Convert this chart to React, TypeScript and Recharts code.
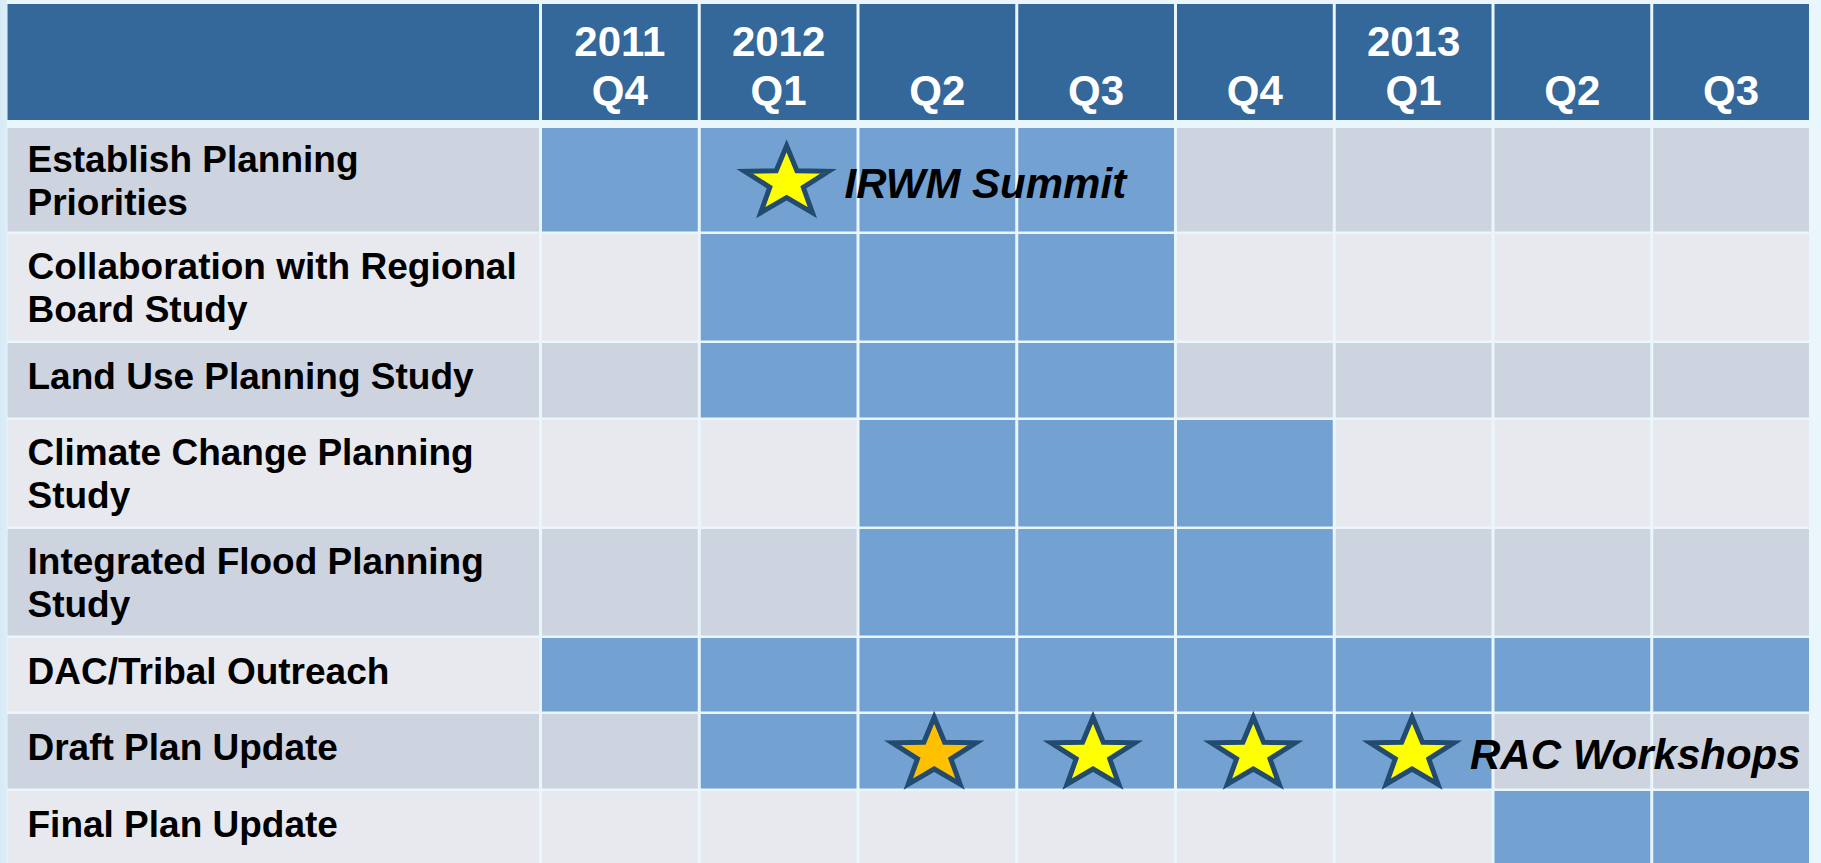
import React from 'react'
import { ScatterChart, Scatter, XAxis, YAxis, ReferenceArea } from 'recharts'

// header: year (only where it changes) over quarter
const years = ['2011', '2012', '', '', '', '2013', '', '']
const quarters = ['Q4', 'Q1', 'Q2', 'Q3', 'Q4', 'Q1', 'Q2', 'Q3']

// task names, already broken into the lines shown in the slide
const tasks = [
  ['Establish Planning', 'Priorities'],
  ['Collaboration with Regional', 'Board Study'],
  ['Land Use Planning Study'],
  ['Climate Change Planning', 'Study'],
  ['Integrated Flood Planning', 'Study'],
  ['DAC/Tribal Outreach'],
  ['Draft Plan Update'],
  ['Final Plan Update'],
]

// first / last active quarter (index into quarters) for each task
const spanStart = [0, 1, 1, 2, 2, 0, 1, 6]
const spanEnd = [3, 3, 3, 4, 4, 7, 5, 7]

// milestones: which task row, where in quarter units, colour, note
const starRow = [0, 6, 6, 6, 6]
const starQuarter = [1.55, 2.48, 3.48, 4.49, 5.49]
const starKind = ['yellow', 'orange', 'yellow', 'yellow', 'yellow']
const starNote = ['IRWM Summit', '', '', '', 'RAC Workshops']

// ---- layout (pixels on the y axis, quarter units on the x axis) ----
const W = 1821
const H = 863
const LABEL_X = -3.367 // left edge of the task-name column
const HEADER_TOP = 4
const HEADER_BOTTOM = 120
const FIRST_ROW = 128
const rowHeights = [106, 109, 77, 109, 109, 76, 77, 77]
const GAP = 2.5

const rowTops = rowHeights.reduce<number[]>((acc, h, i) => {
  acc.push(i === 0 ? FIRST_ROW : acc[i - 1] + rowHeights[i - 1])
  return acc
}, [])

const C = {
  header: '#34679A',
  active: '#73A2D2',
  dark: '#CDD3DF',
  light: '#E8E9EE',
  starLine: '#234B70',
  yellow: '#FFFF00',
  orange: '#FFC000',
}
const FONT = '"Liberation Sans", Arial, sans-serif'

type Box = { x?: number; y?: number; width?: number; height?: number }

function cellShape(fill: string, padX: number, lines?: string[], kind?: 'head' | 'task') {
  return (p: Box) => {
    const x = (p.x ?? 0) + padX
    const y = p.y ?? 0
    const w = (p.width ?? 0) - padX * 2
    const h = p.height ?? 0
    const cy = y + h / 2
    return (
      <g>
        <rect x={x} y={y} width={w} height={h} fill={fill} />
        {kind === 'head' && lines && (
          <text fill="#fff" fontFamily={FONT} fontWeight="bold" fontSize={42} textAnchor="middle">
            <tspan x={x + w / 2} y={y + 52}>{lines[0]}</tspan>
            <tspan x={x + w / 2} y={y + 101}>{lines[1]}</tspan>
          </text>
        )}
        {kind === 'task' && lines && (
          <text fill="#000" fontFamily={FONT} fontWeight="bold" fontSize={37}>
            {lines.length === 1
              ? <tspan x={x + 20} y={cy + 9}>{lines[0]}</tspan>
              : lines.map((l, i) => <tspan key={i} x={x + 20} y={cy - 8 + i * 43}>{l}</tspan>)}
          </text>
        )}
      </g>
    )
  }
}

function starPath(cx: number, cy: number, rx: number, ry: number, inner: number) {
  const pts: string[] = []
  for (let i = 0; i < 10; i++) {
    const a = ((-90 + i * 36) * Math.PI) / 180
    const r = i % 2 ? inner : 1
    pts.push(`${(cx + rx * r * Math.cos(a)).toFixed(1)},${(cy + ry * r * Math.sin(a)).toFixed(1)}`)
  }
  return 'M' + pts.join('L') + 'Z'
}

function StarShape(props: { cx?: number; cy?: number; payload?: { kind: string; note: string } }) {
  const { cx = 0, cy = 0, payload } = props
  const fill = payload?.kind === 'orange' ? C.orange : C.yellow
  return (
    <g>
      <path d={starPath(cx, cy, 44, 37, 0.4)} fill={fill} stroke={C.starLine}
        strokeWidth={5} strokeLinejoin="miter" strokeMiterlimit={10} />
      {payload?.note && (
        <text x={cx + 58} y={cy + 15} fontFamily={FONT} fontWeight="bold" fontStyle="italic"
          fontSize={42} fill="#000">{payload.note}</text>
      )}
    </g>
  )
}

const stars = starRow.map((r, i) => ({
  x: starQuarter[i],
  y: rowTops[r] + (rowHeights[r] - GAP) / 2 + 3,
  kind: starKind[i],
  note: starNote[i],
}))

export default function App() {
  const rowFill = (r: number) => (r % 2 === 0 ? C.dark : C.light)
  return (
    <div style={{
      position: 'absolute', left: 0, top: 0, width: W, height: H,
      background: 'linear-gradient(to right, #D6EAF6 0px, #DCEEF8 7px, #E9F7FC 7px, #E9F7FC 100%)',
    }}>
      <ScatterChart width={W} height={H} margin={{ top: 0, right: 10.5, bottom: 0, left: 6 }}>
        <XAxis type="number" dataKey="x" domain={[LABEL_X, 8]} allowDataOverflow hide />
        <YAxis type="number" dataKey="y" domain={[0, H]} reversed allowDataOverflow hide />

        {/* header row */}
        <ReferenceArea x1={LABEL_X} x2={0} y1={HEADER_TOP} y2={HEADER_BOTTOM} ifOverflow="visible"
          shape={cellShape(C.header, 1.5)} />
        {quarters.map((q, c) => (
          <ReferenceArea key={`h${c}`} x1={c} x2={c + 1} y1={HEADER_TOP} y2={HEADER_BOTTOM}
            ifOverflow="visible" shape={cellShape(C.header, 1.5, [years[c], q], 'head')} />
        ))}

        {/* task rows */}
        {tasks.map((t, r) => (
          <ReferenceArea key={`t${r}`} x1={LABEL_X} x2={0} y1={rowTops[r]} y2={rowTops[r] + rowHeights[r] - GAP}
            ifOverflow="visible" shape={cellShape(rowFill(r), 1.5, t, 'task')} />
        ))}
        {tasks.map((_, r) =>
          quarters.map((_q, c) => {
            const on = c >= spanStart[r] && c <= spanEnd[r]
            return (
              <ReferenceArea key={`c${r}-${c}`} x1={c} x2={c + 1} y1={rowTops[r]}
                y2={rowTops[r] + rowHeights[r] - GAP} ifOverflow="visible"
                shape={cellShape(on ? C.active : rowFill(r), 1.5)} />
            )
          })
        )}

        <Scatter data={stars} shape={StarShape as any} isAnimationActive={false} />
      </ScatterChart>
    </div>
  )
}
